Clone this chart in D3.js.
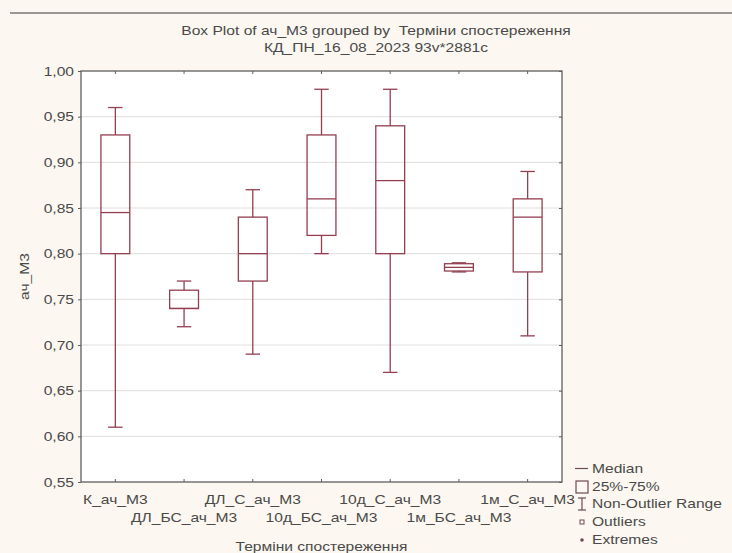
<!DOCTYPE html>
<html>
<head>
<meta charset="utf-8">
<script src="https://cdn.jsdelivr.net/npm/d3@7"></script>
<style>
  html, body { margin: 0; padding: 0; background: #fcf8f1; }
  svg { display: block; font-family: "Liberation Sans", Arial, sans-serif; }
  text { white-space: pre; }
</style>
</head>
<body>
<svg id="chart" width="732" height="553"></svg>
<script>
// Groups (observation periods)
const categories = ["К_ач_M3", "ДЛ_БС_ач_M3", "ДЛ_С_ач_M3", "10д_БС_ач_M3", "10д_С_ач_M3", "1м_БС_ач_M3", "1м_С_ач_M3"];
// Box statistics per group
const whiskerLow  = [0.61, 0.72, 0.69, 0.80, 0.67, 0.780, 0.71];
const quartile1   = [0.80, 0.74, 0.77, 0.82, 0.80, 0.781, 0.78];
const medians     = [0.845, 0.74, 0.80, 0.86, 0.88, 0.785, 0.84];
const quartile3   = [0.93, 0.76, 0.84, 0.93, 0.94, 0.789, 0.86];
const whiskerHigh = [0.96, 0.77, 0.87, 0.98, 0.98, 0.790, 0.89];
// Y axis ticks
const yTicks = [0.55, 0.60, 0.65, 0.70, 0.75, 0.80, 0.85, 0.90, 0.95, 1.00];
const legendItems = ["Median", "25%-75%", "Non-Outlier Range", "Outliers", "Extremes"];

const titleLines = ["Box Plot of ач_M3 grouped by  Терміни спостереження", "КД_ПН_16_08_2023 93v*2881c"];

const svg = d3.select("#chart");
const W = 732, H = 553;
const plot = { left: 81, right: 562, top: 71, bottom: 482 };
const boxColor = "#933f50";
const axisColor = "#5e5e5e";
const textColor = "#4a4a4a";
const FS = 13;        // base font size
const STRETCH = 1.2;  // horizontal stretch of all labels

// place a horizontally stretched label at (px, py)
function label(parent, px, py, str, anchor, size) {
  return parent.append("text")
    .attr("transform", `translate(${px},${py}) scale(${STRETCH},1)`)
    .attr("text-anchor", anchor || "start")
    .attr("font-size", size || FS)
    .attr("fill", textColor)
    .text(str);
}

const data = categories.map((c, i) => ({
  cat: c, lo: whiskerLow[i], q1: quartile1[i], med: medians[i], q3: quartile3[i], hi: whiskerHigh[i]
}));

const x = d3.scaleBand().domain(categories).range([plot.left, plot.right]).padding(0);
const y = d3.scaleLinear().domain([0.55, 1.0]).range([plot.bottom, plot.top]);
const fmt = v => d3.format(".2f")(v).replace(".", ",");

// page background and top rule
svg.append("rect").attr("width", W).attr("height", H).attr("fill", "#fcf8f1");
svg.append("line").attr("x1", 10).attr("x2", W).attr("y1", 13).attr("y2", 13)
  .attr("stroke", "#9a9692").attr("stroke-width", 2);

// titles
titleLines.forEach((t, i) => label(svg, 376, 35 + i * 17, t, "middle", 13));

// plot area
svg.append("rect").attr("x", plot.left).attr("y", plot.top)
  .attr("width", plot.right - plot.left).attr("height", plot.bottom - plot.top)
  .attr("fill", "#ffffff");

// horizontal grid
svg.append("g").selectAll("line").data(yTicks.slice(1, -1)).join("line")
  .attr("x1", plot.left).attr("x2", plot.right)
  .attr("y1", d => y(d)).attr("y2", d => y(d))
  .attr("stroke", "#dedede").attr("stroke-width", 1);

// tick marks on all four sides
const yAxisL = d3.axisLeft(y).tickValues(yTicks).tickFormat("").tickSize(3);
const gy = svg.append("g").attr("transform", `translate(${plot.left},0)`).call(yAxisL);
gy.select(".domain").remove();
gy.selectAll("line").attr("stroke", axisColor);

const yAxisR = d3.axisLeft(y).tickValues(yTicks).tickFormat("").tickSize(3);
const gyr = svg.append("g").attr("transform", `translate(${plot.right},0)`).call(yAxisR);
gyr.select(".domain").remove();
gyr.selectAll("line").attr("stroke", axisColor);

const xAxisB = d3.axisBottom(x).tickSize(3).tickFormat("");
const gx = svg.append("g").attr("transform", `translate(0,${plot.bottom})`).call(xAxisB);
gx.select(".domain").remove();
gx.selectAll("line").attr("stroke", axisColor).attr("y1", -3).attr("y2", 0);

const xAxisT = d3.axisTop(x).tickSize(3).tickFormat("");
const gxt = svg.append("g").attr("transform", `translate(0,${plot.top})`).call(xAxisT);
gxt.select(".domain").remove();
gxt.selectAll("line").attr("stroke", axisColor).attr("y1", 3).attr("y2", 0);

// y tick labels
const gyl = svg.append("g");
yTicks.forEach(v => label(gyl, plot.left - 7, y(v) + 4.5, fmt(v), "end"));

// frame
svg.append("rect").attr("x", plot.left).attr("y", plot.top)
  .attr("width", plot.right - plot.left).attr("height", plot.bottom - plot.top)
  .attr("fill", "none").attr("stroke", axisColor).attr("stroke-width", 1.3);

// category labels, staggered on two rows
const gxl = svg.append("g");
categories.forEach((c, i) =>
  label(gxl, x(c) + x.bandwidth() / 2, plot.bottom + (i % 2 === 0 ? 22 : 40), c, "middle"));

// axis titles
label(svg, (plot.left + plot.right) / 2, 551, "Терміни спостереження", "middle");
svg.append("text").attr("transform", `translate(29,${(plot.top + plot.bottom) / 2}) rotate(-90) scale(${STRETCH},1)`)
  .attr("text-anchor", "middle").attr("font-size", FS).attr("fill", textColor)
  .text("ач_M3");

// boxes
const boxW = x.bandwidth() * 0.42;
const capW = x.bandwidth() * 0.21;
const g = svg.append("g").selectAll("g").data(data).join("g")
  .attr("transform", d => `translate(${x(d.cat) + x.bandwidth() / 2},0)`)
  .attr("stroke", boxColor).attr("stroke-width", 1.3).attr("fill", "none");

g.append("line").attr("x1", 0).attr("x2", 0).attr("y1", d => y(d.hi)).attr("y2", d => y(d.q3));
g.append("line").attr("x1", 0).attr("x2", 0).attr("y1", d => y(d.q1)).attr("y2", d => y(d.lo));
g.append("line").attr("x1", -capW / 2).attr("x2", capW / 2).attr("y1", d => y(d.hi)).attr("y2", d => y(d.hi));
g.append("line").attr("x1", -capW / 2).attr("x2", capW / 2).attr("y1", d => y(d.lo)).attr("y2", d => y(d.lo));
g.append("rect").attr("x", -boxW / 2).attr("width", boxW)
  .attr("y", d => y(d.q3)).attr("height", d => y(d.q1) - y(d.q3));
g.append("line").attr("x1", -boxW / 2).attr("x2", boxW / 2).attr("y1", d => y(d.med)).attr("y2", d => y(d.med));

// legend
const lg = svg.append("g").attr("transform", "translate(575,0)");
const rowY = [473, 491, 508, 526, 544];
const symColor = "#6e4a52";
const sym = lg.append("g").attr("stroke", symColor).attr("fill", "none").attr("stroke-width", 1.2);
sym.append("line").attr("x1", 0).attr("x2", 13).attr("y1", rowY[0] - 4.5).attr("y2", rowY[0] - 4.5);
sym.append("rect").attr("x", 1).attr("y", rowY[1] - 10).attr("width", 12).attr("height", 12);
sym.append("line").attr("x1", 7).attr("x2", 7).attr("y1", rowY[2] - 10).attr("y2", rowY[2] + 2);
sym.append("line").attr("x1", 3).attr("x2", 11).attr("y1", rowY[2] - 10).attr("y2", rowY[2] - 10);
sym.append("line").attr("x1", 3).attr("x2", 11).attr("y1", rowY[2] + 2).attr("y2", rowY[2] + 2);
sym.append("rect").attr("x", 5).attr("y", rowY[3] - 6).attr("width", 4).attr("height", 4).attr("stroke-width", 1);
lg.append("circle").attr("cx", 7).attr("cy", rowY[4] - 4).attr("r", 1.8).attr("fill", symColor);
legendItems.forEach((t, i) => label(lg, 17, rowY[i], t, "start"));
</script>
</body>
</html>
